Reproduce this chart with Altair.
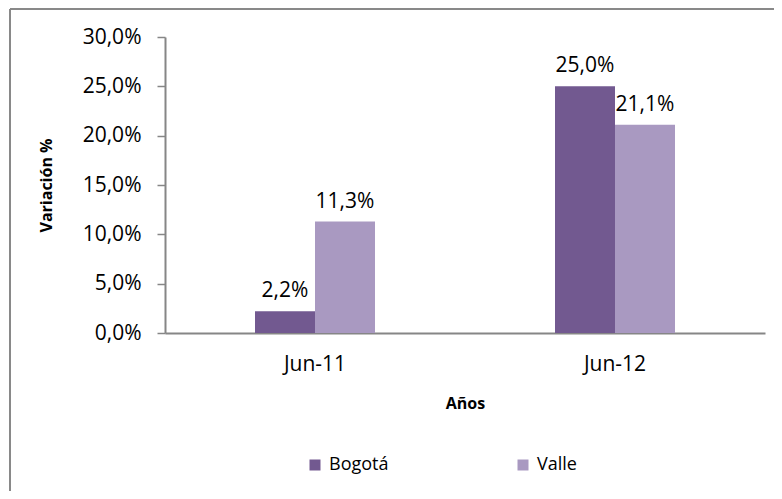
import altair as alt
import pandas as pd

years = ["Jun-11", "Jun-12"]
series = ["Bogotá", "Valle"]
bogota = [0.022, 0.250]
valle = [0.113, 0.211]
colors = ["#725990", "#A999C1"]
y_ticks = [0, 0.05, 0.10, 0.15, 0.20, 0.25, 0.30]

rows = []
for i, yr in enumerate(years):
    rows.append({"Año": yr, "Serie": series[0], "Valor": bogota[i]})
    rows.append({"Año": yr, "Serie": series[1], "Valor": valle[i]})
df = pd.DataFrame(rows)

FONT = "Open Sans"
AXIS_GRAY = "#868686"
W, H = 600, 296
LBL = 21

base = alt.Chart(df).transform_calculate(
    label="replace(format(datum.Valor, '.1%'), '.', ',')"
).encode(
    x=alt.X(
        "Año:N",
        sort=years,
        scale=alt.Scale(paddingInner=0.6, paddingOuter=0.3),
        axis=alt.Axis(
            title="Años",
            labelAngle=0,
            ticks=False,
            labelPadding=20,
            labelFontSize=LBL,
            labelFont=FONT,
            labelColor="#000000",
            domainColor=AXIS_GRAY,
            domainWidth=2,
            titleFont=FONT,
            titleFontSize=16,
            titleFontWeight="bold",
            titleColor="#000000",
            titleX=300,
            titleY=70,
            titleBaseline="middle",
            titleAlign="center",
        ),
    ),
    xOffset=alt.XOffset("Serie:N", sort=series,
                        scale=alt.Scale(paddingInner=0, paddingOuter=0)),
)

bars = base.mark_bar().encode(
    y=alt.Y(
        "Valor:Q",
        scale=alt.Scale(domain=[0, 0.30], nice=False),
        axis=alt.Axis(
            title="Variación %",
            values=y_ticks,
            labelExpr="replace(format(datum.value, '.1%'), '.', ',')",
            grid=False,
            tickSize=8,
            tickColor=AXIS_GRAY,
            tickWidth=1.5,
            labelPadding=16,
            labelFontSize=LBL,
            labelFont=FONT,
            labelColor="#000000",
            domainColor=AXIS_GRAY,
            domainWidth=2,
            titleFont=FONT,
            titleFontSize=16,
            titleFontWeight="bold",
            titleColor="#000000",
            titleAngle=270,
            titleX=-119,
            titleY=148,
            titleAlign="center",
            titleBaseline="middle",
        ),
    ),
    color=alt.Color(
        "Serie:N",
        sort=series,
        scale=alt.Scale(domain=series, range=colors),
        legend=alt.Legend(
            title=None,
            orient="none",
            direction="horizontal",
            legendX=141,
            legendY=419,
            symbolType="square",
            symbolSize=121,
            symbolStrokeWidth=0,
            labelFont=FONT,
            labelFontSize=18,
            labelColor="#000000",
            labelOffset=5,
            columnPadding=125,
        ),
    ),
)

labels = base.mark_text(
    font=FONT, fontSize=LBL, color="#000000", baseline="alphabetic", dy=-14
).encode(
    y=alt.Y("Valor:Q"),
    text=alt.Text("label:N"),
)

frame_df = pd.DataFrame({"f": [0]})
frame_left = alt.Chart(frame_df).mark_rule(color="#898989", strokeWidth=2).encode(
    x=alt.value(-155), y=alt.value(-28), y2=alt.value(520),
)
frame_top = alt.Chart(frame_df).mark_rule(color="#898989", strokeWidth=2).encode(
    x=alt.value(-155), x2=alt.value(700), y=alt.value(-28),
)

chart = alt.layer(frame_left, frame_top, bars, labels).properties(
    width=W,
    height=H,
    background="#ffffff",
    autosize=alt.AutoSizeParams(type="none"),
    padding={"left": 157, "top": 29, "right": 9, "bottom": 158},
).configure_view(strokeWidth=0)

chart.save("out.html", embed_options={"renderer": "svg", "actions": False})
